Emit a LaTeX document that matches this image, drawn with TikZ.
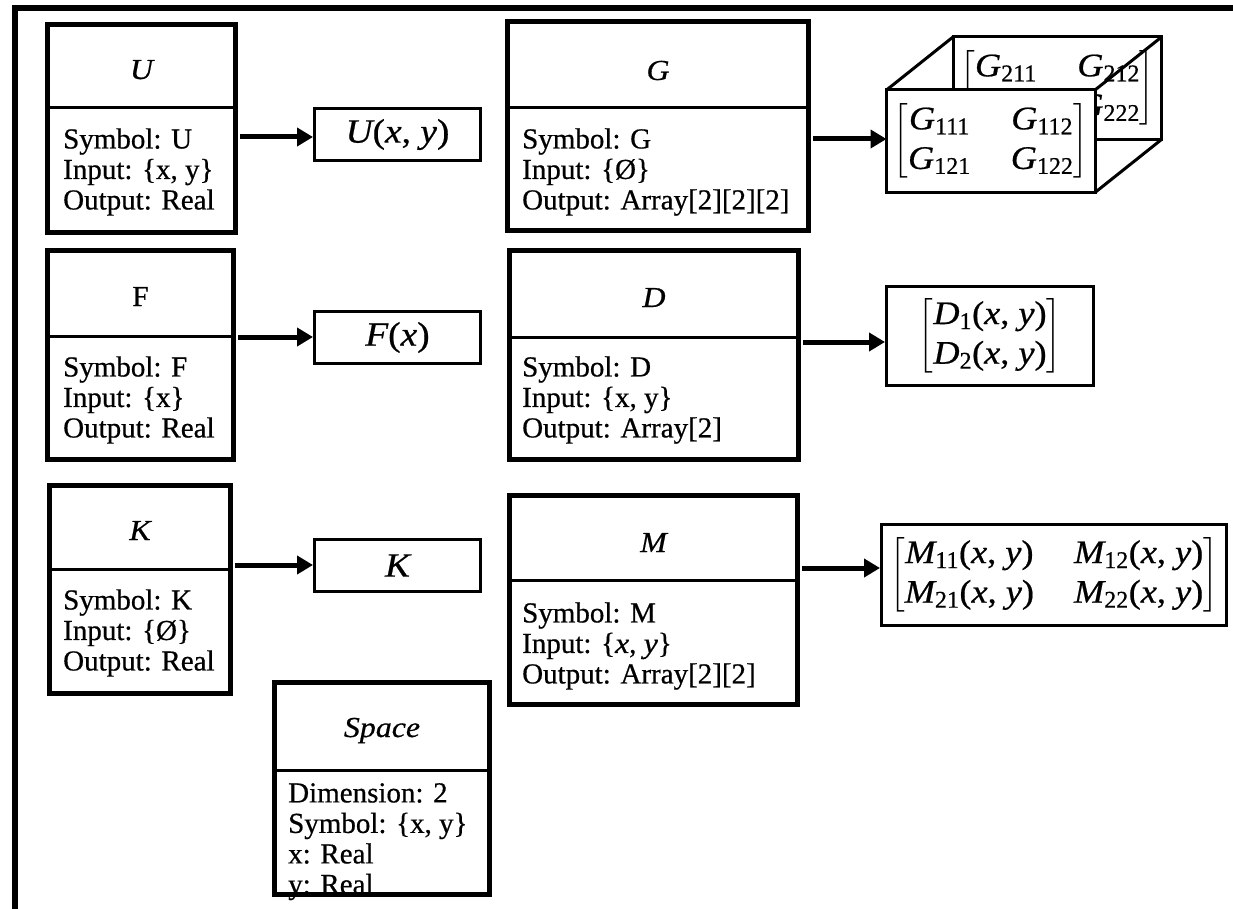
\RequirePackage{fix-cm}
\documentclass[tikz,border=0pt]{standalone}
\usepackage{amsmath}
\usepackage{fontspec}
\setmainfont{Liberation Serif}[RawFeature={embolden=0.6}]
\newfontfamily\symfont{Liberation Serif}[FakeStretch=1.1, RawFeature={embolden=0.6}]
\usetikzlibrary{arrows.meta}

\DeclareMathSizes{29}{29}{20}{15}
\DeclareMathSizes{33}{33}{24}{17}
\DeclareMathSizes{34}{34}{24}{17}

\newcommand\attrsize{\fontsize{29}{30.5}\selectfont}
\newcommand\hdrsize{\fontsize{29}{32}\selectfont}
\newcommand\valsize{\fontsize{34}{38}\selectfont}
\newcommand\matsize{\fontsize{33}{36}\selectfont\setlength{\arraycolsep}{20pt}\def\arraystretch{1.1}}
% italic symbol, and the argument list (x, y)
\newcommand\iv[1]{\text{\symfont\itshape #1}}
\newcommand\xy{\text{\symfont(\iv{x}, \iv{y})}}

\tikzset{
  classbox/.style={draw, line width=5pt, inner sep=0pt, outer sep=2.5pt},
  divline/.style={line width=3pt},
  hdr/.style={inner sep=0pt, anchor=base, font=\hdrsize},
  attrs/.style={inner sep=0pt, anchor=west, align=left, font=\attrsize},
  valbox/.style={draw, line width=3pt, inner sep=0pt, outer sep=1.5pt, font=\valsize},
  face/.style={draw, line width=3pt, fill=white, inner sep=0pt, outer sep=0pt,
               minimum width=208.5pt, minimum height=102.5pt, font=\matsize},
  edge3/.style={line width=3pt},
  arr/.style={line width=5pt, shorten <=2pt, -{Triangle[length=16pt,width=18pt]}},
  frame/.style={line width=6pt}
}

\begin{document}
\begin{tikzpicture}[x=1pt,y=-1pt]
\useasboundingbox (0,0) rectangle (1233,909);

% page frame (top and left edges)
\coordinate (frameBL) at (15,915);
\coordinate (frameTL) at (15,8);
\coordinate (frameTR) at (1240,8);
\draw[frame] (frameBL) -- (frameTL) -- (frameTR);

% ---------- left column: U, F, K ----------
\node[classbox, minimum width=188pt, minimum height=208pt] (U) at (141.5,128.5) {};
\coordinate (Ucut) at (0,108);
\draw[divline] (U.west |- Ucut) -- (U.east |- Ucut);
\node[hdr] (Ut) at (141.5,79) {\iv{U}};
\node[attrs] (Ub) at (63,172) {Symbol: U\\Input: \{x, y\}\\Output: Real};

\node[classbox, minimum width=186pt, minimum height=209pt] (F) at (140.5,355) {};
\coordinate (Fcut) at (0,336);
\draw[divline] (F.west |- Fcut) -- (F.east |- Fcut);
\node[hdr] (Ft) at (140.5,306) {F};
\node[attrs] (Fb) at (63,400) {Symbol: F\\Input: \{x\}\\Output: Real};

\node[classbox, minimum width=181pt, minimum height=208pt] (K) at (140,589.5) {};
\coordinate (Kcut) at (0,569);
\draw[divline] (K.west |- Kcut) -- (K.east |- Kcut);
\node[hdr] (Kt) at (140,540) {\iv{K}};
\node[attrs] (Kb) at (63,633) {Symbol: K\\Input: \{Ø\}\\Output: Real};

% value boxes of the left column
\node[valbox, minimum width=166pt, minimum height=52pt] (Uo) at (397.5,134.5) {\iv{U}\xy};
\node[valbox, minimum width=166pt, minimum height=52pt] (Fo) at (397.5,337.5) {\iv{F}\text{\symfont(\iv{x})}};
\node[valbox, minimum width=166pt, minimum height=52pt] (Ko) at (397.5,565.5) {\iv{K}};

\coordinate (Uy) at (0,137);
\coordinate (Fy) at (0,337);
\coordinate (Ky) at (0,565);
\draw[arr] (U.east |- Uy) -- (Uo.west |- Uy);
\draw[arr] (F.east |- Fy) -- (Fo.west |- Fy);
\draw[arr] (K.east |- Ky) -- (Ko.west |- Ky);

% ---------- Space ----------
\node[classbox, minimum width=215pt, minimum height=212pt] (S) at (382,788.5) {};
\coordinate (Scut) at (0,770);
\draw[divline] (S.west |- Scut) -- (S.east |- Scut);
\node[hdr] (St) at (382,737) {\iv{Space}};
\node[attrs, anchor=north west] (Sb) at (288,783) {Dimension: 2\\Symbol: \{x, y\}\\x: Real\\y: Real};

% ---------- right column: G, D, M ----------
\node[classbox, minimum width=301pt, minimum height=209pt] (G) at (658,126.5) {};
\coordinate (Gcut) at (0,108);
\draw[divline] (G.west |- Gcut) -- (G.east |- Gcut);
\node[hdr] (Gt) at (658,80) {\iv{G}};
\node[attrs] (Gbody) at (522,172) {Symbol: G\\Input: \{Ø\}\\Output: Array[2][2][2]};

\node[classbox, minimum width=289pt, minimum height=209pt] (D) at (654,355) {};
\coordinate (Dcut) at (0,337);
\draw[divline] (D.west |- Dcut) -- (D.east |- Dcut);
\node[hdr] (Dt) at (654,307) {\iv{D}};
\node[attrs] (Db) at (522,400) {Symbol: D\\Input: \{x, y\}\\Output: Array[2]};

\node[classbox, minimum width=288pt, minimum height=209pt] (M) at (653.5,600) {};
\coordinate (Mcut) at (0,580);
\draw[divline] (M.west |- Mcut) -- (M.east |- Mcut);
\node[hdr] (Mt) at (653.5,552) {\iv{M}};
\node[attrs] (Mb) at (522,646) {Symbol: M\\Input: \{\iv{x}, \iv{y}\}\\Output: Array[2][2]};

% G as a box of two stacked 2x2 layers
\node[face] (Gback) at (1057.25,88.25)
  {$\begin{bmatrix} \iv{G}_{\text{211}} & \iv{G}_{\text{212}}\\ \iv{G}_{\text{221}} & \iv{G}_{\text{222}}\end{bmatrix}$};
\node[face] (Gfront) at (990.75,141.25)
  {$\begin{bmatrix} \iv{G}_{\text{111}} & \iv{G}_{\text{112}}\\ \iv{G}_{\text{121}} & \iv{G}_{\text{122}}\end{bmatrix}$};
\draw[edge3] (Gfront.north west) -- (Gback.north west);
\draw[edge3] (Gfront.north east) -- (Gback.north east);
\draw[edge3] (Gfront.south east) -- (Gback.south east);

\node[valbox, font=\matsize, minimum width=207pt, minimum height=99pt] (Do) at (990,336)
  {$\begin{bmatrix} \iv{D}_{\text{1}}\xy\\ \iv{D}_{\text{2}}\xy\end{bmatrix}$};
\node[valbox, font=\matsize, minimum width=345pt, minimum height=101pt] (Mo) at (1054,575)
  {$\begin{bmatrix} \iv{M}_{\text{11}}\xy & \iv{M}_{\text{12}}\xy\\ \iv{M}_{\text{21}}\xy & \iv{M}_{\text{22}}\xy\end{bmatrix}$};

\coordinate (Gy) at (0,139);
\coordinate (Dy) at (0,342);
\coordinate (My) at (0,568);
\draw[arr] (G.east |- Gy) -- (Gfront.west |- Gy);
\draw[arr] (D.east |- Dy) -- (Do.west |- Dy);
\draw[arr] (M.east |- My) -- (Mo.west |- My);
\end{tikzpicture}
\end{document}
